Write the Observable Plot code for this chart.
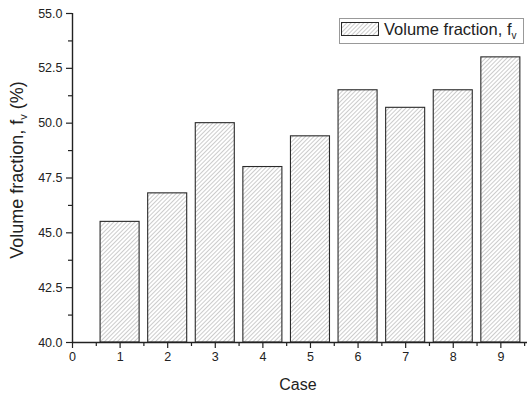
<!DOCTYPE html>
<html>
<head>
<meta charset="utf-8">
<script src="https://cdn.jsdelivr.net/npm/d3@7"></script>
<script src="https://cdn.jsdelivr.net/npm/@observablehq/plot@0.6"></script>
<style>
  html, body { margin: 0; padding: 0; background: #fff; }
  svg { font-family: "Liberation Sans", Arial, sans-serif; }
</style>
</head>
<body>
<div id="chart"></div>
<script>
const cases = [1, 2, 3, 4, 5, 6, 7, 8, 9];
const volumeFraction = [45.5, 46.8, 50.0, 48.0, 49.4, 51.5, 50.7, 51.5, 53.0];
const yTicks = [40, 42.5, 45, 47.5, 50, 52.5, 55];
const yMinor = [41.25, 43.75, 46.25, 48.75, 51.25, 53.75];
const xTicks = [0, 1, 2, 3, 4, 5, 6, 7, 8, 9];
const xMinor = [0.5, 1.5, 2.5, 3.5, 4.5, 5.5, 6.5, 7.5, 8.5, 9.5];
const seriesName = "Volume fraction, f";
const seriesSub = "v";

const data = cases.map((c, i) => ({case: c, value: volumeFraction[i]}));

const W = 527, H = 395;
const chart = Plot.plot({
  width: W,
  height: H,
  marginLeft: 72,
  marginRight: 0,
  marginTop: 13,
  marginBottom: 53,
  style: {fontFamily: "'Liberation Sans', Arial, sans-serif", fontSize: "12px", color: "#222", background: "#fff"},
  x: {type: "linear", domain: [0, 9.56], axis: null},
  y: {domain: [40, 55], axis: null},
  marks: [
    Plot.rect(data, {x1: d => d.case - 0.41, x2: d => d.case + 0.41, y1: 40, y2: "value",
      fill: "url(#hatch)", stroke: "#2a2a2a", strokeWidth: 1.1}),
    Plot.axisY({ticks: yTicks, tickFormat: d3.format(".1f"), tickSize: 6, tickPadding: 4, fontSize: 12.5, label: null, stroke: "#222", strokeWidth: 1.2}),
    Plot.axisY({ticks: yMinor, tickSize: 4, text: null, label: null, stroke: "#222", strokeWidth: 1.2}),
    Plot.axisX({ticks: xTicks, tickFormat: d3.format("d"), tickSize: 6, tickPadding: 4, fontSize: 12.5, label: null, stroke: "#222", strokeWidth: 1.2}),
    Plot.axisX({ticks: xMinor, tickSize: 4, text: null, label: null, stroke: "#222", strokeWidth: 1.2}),
    Plot.ruleX([0], {stroke: "#222", strokeWidth: 1.4}),
    Plot.ruleY([40], {stroke: "#222", strokeWidth: 1.4})
  ]
});

const svg = d3.select(chart);
const defs = svg.insert("defs", ":first-child");
const pat = defs.append("pattern")
  .attr("id", "hatch")
  .attr("patternUnits", "userSpaceOnUse")
  .attr("width", 3).attr("height", 3)
  .attr("patternTransform", "rotate(45)");
pat.append("rect").attr("width", 3).attr("height", 3).attr("fill", "#fff");
pat.append("line").attr("x1", 0).attr("y1", 0).attr("x2", 0).attr("y2", 3)
  .attr("stroke", "#8f8f8f").attr("stroke-width", 0.9);

// axis titles
svg.append("text")
  .attr("x", 298).attr("y", 390)
  .attr("text-anchor", "middle")
  .attr("font-size", 16).attr("fill", "#222")
  .text("Case");

const yl = svg.append("text")
  .attr("transform", "translate(23,170) rotate(-90)")
  .attr("text-anchor", "middle")
  .attr("font-size", 18).attr("fill", "#222");
yl.append("tspan").text(seriesName);
yl.append("tspan").attr("font-size", 11).attr("dy", 4).text(seriesSub);
yl.append("tspan").attr("dy", -4).text(" (%)");

// legend
const lg = svg.append("g").attr("text-anchor", "start");
lg.append("rect").attr("x", 339.5).attr("y", 18.5).attr("width", 184).attr("height", 25)
  .attr("fill", "#fff").attr("stroke", "#999").attr("stroke-width", 1);
lg.append("rect").attr("x", 341.5).attr("y", 22.5).attr("width", 37).attr("height", 13)
  .attr("fill", "url(#hatch)").attr("stroke", "#2a2a2a").attr("stroke-width", 1);
const lt = lg.append("text").attr("x", 384).attr("y", 35).attr("font-size", 16.5).attr("fill", "#222")
  .attr("text-anchor", "start");
lt.append("tspan").text(seriesName);
lt.append("tspan").attr("font-size", 10).attr("dy", 4).text(seriesSub);

document.getElementById("chart").appendChild(chart);
</script>
</body>
</html>
